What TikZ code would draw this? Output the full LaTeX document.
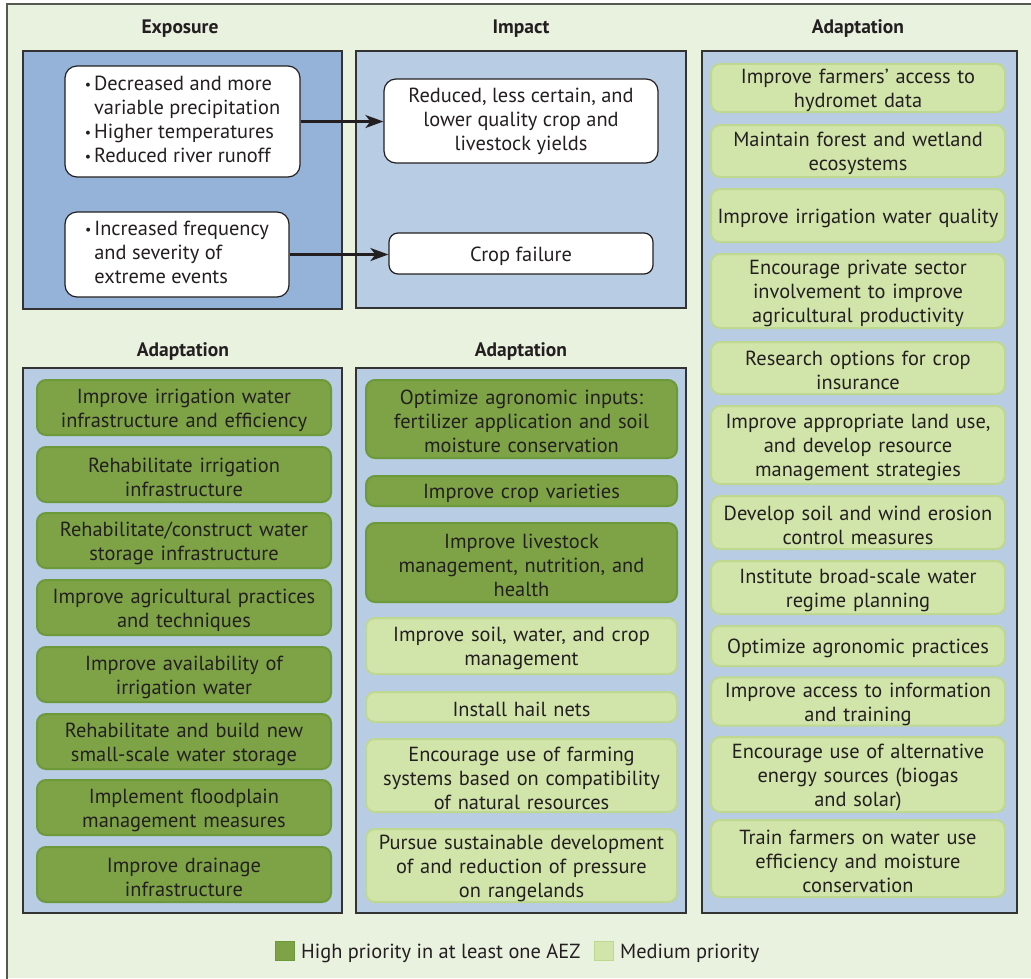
\documentclass[tikz,border=0pt]{standalone}
\usepackage{fontspec}
\setmainfont{PT Sans}
\usetikzlibrary{arrows.meta}
\definecolor{bgc}{HTML}{E9F1DF}
\definecolor{frameO}{HTML}{555A50}
\definecolor{frame}{HTML}{333333}
\definecolor{expo}{HTML}{95B3D8}
\definecolor{pan}{HTML}{B8CCE4}
\definecolor{hiF}{HTML}{7EA346}
\definecolor{hiB}{HTML}{6C9A3B}
\definecolor{meF}{HTML}{D1E4AA}
\definecolor{meB}{HTML}{BED98F}
\definecolor{txt}{HTML}{231F20}
\newcommand{\bul}{\raisebox{0.5pt}{\fontsize{14}{14}\selectfont\textbullet}}
\begin{document}
\begin{tikzpicture}[x=1pt,y=-1pt,
  every node/.style={text=txt, font=\fontsize{20.4}{24}\selectfont},
  paneltitle/.style={font=\bfseries\fontsize{19.5}{22}\selectfont},
  panel/.style={draw=frame, line width=1.2pt, inner sep=0pt, outer sep=0pt},
  lowtext/.style={execute at begin node={\rule{0pt}{20pt}}},
  hibox/.style={draw=hiB, fill=hiF, line width=2pt, rounded corners=9pt, inner sep=0pt, align=center, lowtext},
  mebox/.style={draw=meB, fill=meF, line width=2pt, rounded corners=9pt, inner sep=0pt, align=center, lowtext},
  whitebox/.style={draw=txt, fill=white, line width=1.2pt, rounded corners=12pt, inner sep=0pt},
  arr/.style={draw=txt, line width=2.3pt, -{Stealth[length=18pt,width=13pt,inset=5pt]}}
]
\useasboundingbox (0,0) rectangle (1031,978);
\fill[white] (0,0) rectangle (1031,978);
\fill[bgc] (7,4) rectangle (1031,978);
\draw[frameO, line width=1.6pt] (7,990) -- (7,4) -- (1040,4);

% titles
\node[paneltitle] (tExp) at (180,29) {Exposure};
\node[paneltitle] (tImp) at (521,29) {Impact};
\node[paneltitle] (tAdR) at (858,29) {Adaptation};
\node[paneltitle] (tAdL) at (183,352) {Adaptation};
\node[paneltitle] (tAdM) at (521,352) {Adaptation};

% panels
\node[panel, fill=expo, minimum width=319pt, minimum height=258pt] (pExp) at (182.5,180) {};
\node[panel, fill=pan, minimum width=330pt, minimum height=257pt] (pImp) at (521,179.5) {};
\node[panel, fill=pan, minimum width=315pt, minimum height=862pt] (pAdR) at (859.5,482) {};
\node[panel, fill=pan, minimum width=319pt, minimum height=545pt] (pAdL) at (182.5,640.5) {};
\node[panel, fill=pan, minimum width=330pt, minimum height=545pt] (pAdM) at (521,640.5) {};

% exposure boxes
\node[whitebox, minimum width=235pt, minimum height=111pt, align=left] (e1) at (182.5,121.5)
  {\begin{tabular}{@{}l@{\hspace{3pt}}l@{}}
   \bul & Decreased and more\\
   & variable precipitation\\
   \bul & Higher temperatures\\
   \bul & Reduced river runoff
   \end{tabular}};
\node[whitebox, minimum width=224pt, minimum height=85pt, align=left] (e2) at (177,254.5)
  {\begin{tabular}{@{}l@{\hspace{3pt}}l@{}}
   \bul & Increased frequency\\
   & and severity of\\
   & extreme events
   \end{tabular}};

% impact boxes
\node[whitebox, minimum width=274pt, minimum height=84pt, align=center] (i1) at (521,121)
  {Reduced, less certain, and\\lower quality crop and\\livestock yields};
\node[whitebox, minimum width=264pt, minimum height=41pt, rounded corners=9pt, align=center, lowtext] (i2) at (521,253.5)
  {Crop failure};

\draw[arr] (e1.east) -- (e1.east -| i1.west);
\draw[arr] (e2.east) -- (e2.east -| i2.west);

% left adaptation (high)
\begin{scope}[every node/.append style={minimum width=294pt, text width=292pt, minimum height=55pt}]
\node[hibox] (l1) at (184,407.5) {Improve irrigation water\\infrastructure and efficiency};
\node[hibox] (l2) at (184,474.5) {Rehabilitate irrigation\\infrastructure};
\node[hibox] (l3) at (184,540.5) {Rehabilitate/construct water\\storage infrastructure};
\node[hibox] (l4) at (184,607.5) {Improve agricultural practices\\and techniques};
\node[hibox] (l5) at (184,674.5) {Improve availability of\\irrigation water};
\node[hibox] (l6) at (184,741.5) {Rehabilitate and build new\\small-scale water storage};
\node[hibox] (l7) at (184,807.5) {Implement floodplain\\management measures};
\node[hibox] (l8) at (184,874.5) {Improve drainage\\infrastructure};
\end{scope}

% middle adaptation
\begin{scope}[every node/.append style={minimum width=311pt, text width=309pt}]
\node[hibox, minimum height=78pt] (m1) at (521.5,419) {Optimize agronomic inputs:\\fertilizer application and soil\\moisture conservation};
\node[hibox, minimum height=30pt] (m2) at (521.5,491) {Improve crop varieties};
\node[hibox, minimum height=79pt] (m3) at (521.5,562.5) {Improve livestock\\management, nutrition, and\\health};
\node[mebox, minimum height=56pt] (m4) at (521.5,646) {Improve soil, water, and crop\\management};
\node[mebox, minimum height=30pt] (m5) at (521.5,707) {Install hail nets};
\node[mebox, minimum height=73pt] (m6) at (521.5,775.5) {Encourage use of farming\\systems based on compatibility\\of natural resources};
\node[mebox, minimum height=73pt] (m7) at (521.5,865.5) {Pursue sustainable development\\of and reduction of pressure\\on rangelands};
\end{scope}

% right adaptation (medium)
\begin{scope}[every node/.append style={minimum width=294pt, text width=292pt}]
\node[mebox, minimum height=48pt] (r1) at (858,88) {Improve farmers’ access to\\hydromet data};
\node[mebox, minimum height=52pt] (r2) at (858,151) {Maintain forest and wetland\\ecosystems};
\node[mebox, minimum height=53pt] (r3) at (858,215.5) {Improve irrigation water quality};
\node[mebox, minimum height=74pt] (r4) at (858,291) {Encourage private sector\\involvement to improve\\agricultural productivity};
\node[mebox, minimum height=52pt] (r5) at (858,368) {Research options for crop\\insurance};
\node[mebox, minimum height=78pt] (r6) at (858,445) {Improve appropriate land use,\\and develop resource\\management strategies};
\node[mebox, minimum height=53pt] (r7) at (858,522.5) {Develop soil and wind erosion\\control measures};
\node[mebox, minimum height=53pt] (r8) at (858,587.5) {Institute broad-scale water\\regime planning};
\node[mebox, minimum height=40pt] (r9) at (858,646) {Optimize agronomic practices};
\node[mebox, minimum height=47pt] (r10) at (858,701.5) {Improve access to information\\and training};
\node[mebox, minimum height=75pt] (r11) at (858,774.5) {Encourage use of alternative\\energy sources (biogas\\and solar)};
\node[mebox, minimum height=77pt] (r12) at (858,858.5) {Train farmers on water use\\efficiency and moisture\\conservation};
\end{scope}

% legend
\node[draw=hiB, fill=hiF, line width=1.5pt, minimum size=19pt, inner sep=0pt] (lgH) at (285,951) {};
\node[anchor=west, inner sep=0pt] (lgHt) at (301,953) {High priority in at least one AEZ};
\node[draw=meB, fill=meF, line width=1.5pt, minimum size=19pt, inner sep=0pt] (lgM) at (604,951) {};
\node[anchor=west, inner sep=0pt] (lgMt) at (620,953) {Medium priority};
\end{tikzpicture}
\end{document}
